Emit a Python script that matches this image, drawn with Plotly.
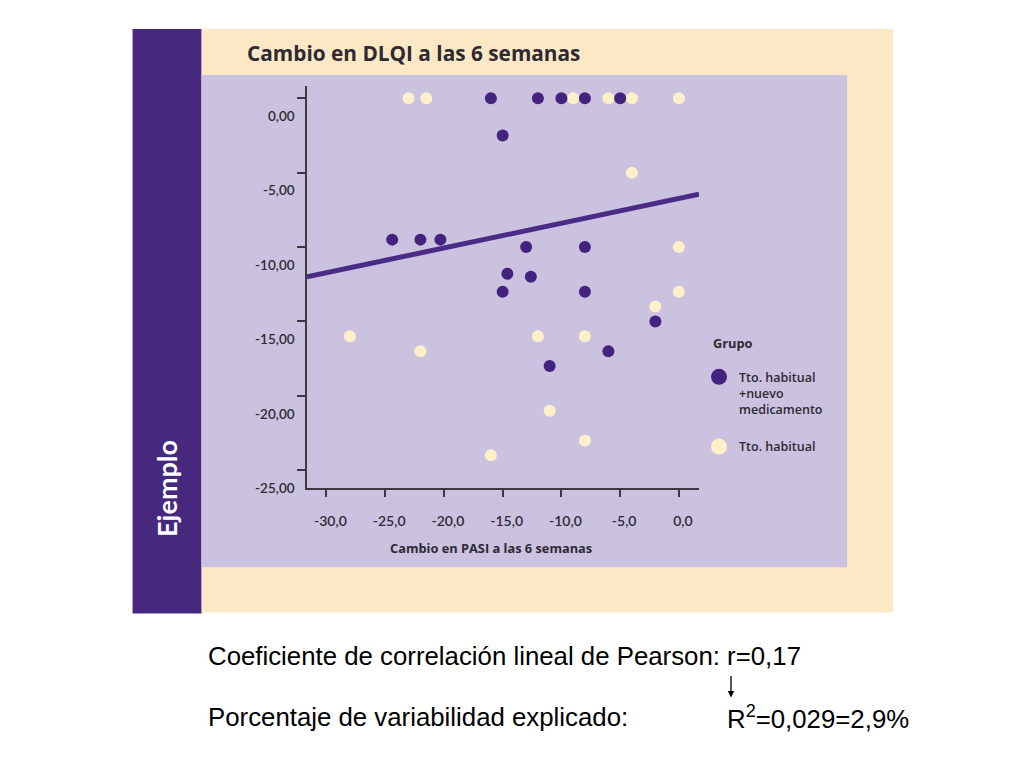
import plotly.graph_objects as go

# cambio en PASI (x) y DLQI (y) a las 6 semanas, por grupo
nuevo_x = [-16, -12, -10, -8, -5, -15, -24.4, -22, -20.3, -13, -8, -14.6, -12.6, -15, -8, -2, -6, -11]
nuevo_y = [0, 0, 0, 0, 0, -2.5, -9.5, -9.5, -9.5, -10, -10, -11.8, -12, -13, -13, -15, -17, -18]

habitual_x = [-23, -21.5, -9, -6, -4, 0, -4, 0, 0, -2, -28, -12, -8, -22, -11, -8, -16]
habitual_y = [0, 0, 0, 0, 0, 0, -5, -10, -13, -14, -16, -16, -16, -17, -21, -23, -24]

# recta de regresion
recta_x = [-31.65, 1.71]
recta_y = [-12.0, -6.45]

x_ticks = [-30, -25, -20, -15, -10, -5, 0]
x_labels = ["-30,0", "-25,0", "-20,0", "-15,0", "-10,0", "-5,0", "0,0"]
y_ticks = [0, -5, -10, -15, -20, -25]
y_labels = ["0,00", "-5,00", "-10,00", "-15,00", "-20,00", "-25,00"]

PURPLE = "#44237f"
CREAM = "#fff0c9"
LAVENDER = "#cac2df"
BEIGE = "#fde8c5"
DARK = "#2d2a33"

# page body margin of the html page
OFF = 8
# plot area in page pixels
L, R, T, B = 307.3, 699.0, 86.0, 487.7


def px(x):
    return (x - L) / (R - L)


def py(y):
    return (B - y) / (B - T)


def note(text, x, y, size, color=DARK, family="Open Sans", xanchor="left", **kw):
    return dict(text=text, x=px(x), y=py(y), xref="paper", yref="paper",
                xanchor=xanchor, yanchor="middle", showarrow=False,
                font=dict(family=family, size=size, color=color), **kw)


fig = go.Figure()

fig.add_trace(go.Scatter(x=habitual_x, y=habitual_y, mode="markers",
                         marker=dict(size=12, color=CREAM, line=dict(width=0)),
                         showlegend=False))
fig.add_trace(go.Scatter(x=recta_x, y=recta_y, mode="lines",
                         line=dict(color="#4b2a88", width=5), showlegend=False))
fig.add_trace(go.Scatter(x=nuevo_x, y=nuevo_y, mode="markers",
                         marker=dict(size=12, color=PURPLE, line=dict(width=0)),
                         showlegend=False))

# legend entries
fig.add_trace(go.Scatter(x=[None], y=[None], mode="markers", legendgroup="a",
                         marker=dict(size=18, color=PURPLE),
                         name="Tto. habitual<br>+nuevo<br>medicamento"))
fig.add_trace(go.Scatter(x=[None], y=[None], mode="markers", legendgroup="b",
                         marker=dict(size=18, color=CREAM),
                         name="Tto. habitual"))

shapes = [
    dict(type="rect", xref="paper", yref="paper", layer="below", line_width=0,
         x0=px(133), x1=px(202), y0=py(613), y1=py(29), fillcolor="#47287f"),
    dict(type="rect", xref="paper", yref="paper", layer="below", line_width=0,
         x0=px(202), x1=px(893), y0=py(612), y1=py(29), fillcolor=BEIGE),
    dict(type="rect", xref="paper", yref="paper", layer="below", line_width=0,
         x0=px(202), x1=px(847), y0=py(567), y1=py(75), fillcolor=LAVENDER),
]

annotations = [
    note("<b>Cambio en DLQI a las 6 semanas</b>", 245, 53, 20.8),
    note("<b>Ejemplo</b>", 167, 488, 27, color="white", family="Lato",
         xanchor="center", textangle=-90),
    note("<b>Cambio en PASI a las 6 semanas</b>", 491, 548, 12.8, xanchor="center"),
    note("<b>Grupo</b>", 711, 343, 12.8),
    note("Coeficiente de correlación lineal de Pearson: r=0,17", 206, 656, 25.8,
         color="black", family="Liberation Sans"),
    note("Porcentaje de variabilidad explicado:", 206, 717, 25.8,
         color="black", family="Liberation Sans"),
    note("R<sup>2</sup>=0,029=2,9%", 725, 717, 25.8,
         color="black", family="Liberation Sans"),
    dict(text="", x=px(731), y=py(697), xref="paper", yref="paper",
         ax=0, ay=-23, axref="pixel", ayref="pixel",
         showarrow=True, arrowhead=2, arrowsize=1, arrowwidth=1.3, arrowcolor="black"),
]

fig.update_layout(
    width=1024 - OFF, height=768 - OFF,
    margin=dict(l=L - OFF, r=1024 - R, t=T - OFF, b=768 - B, pad=0),
    paper_bgcolor="white",
    plot_bgcolor="rgba(0,0,0,0)",
    shapes=shapes,
    annotations=annotations,
    legend=dict(
        x=px(699), y=py(362), xanchor="left", yanchor="top",
        bgcolor="rgba(0,0,0,0)", valign="top",
        font=dict(family="Open Sans", size=12.5, color=DARK, weight=600),
        tracegroupgap=18, itemsizing="trace",
    ),
    xaxis=dict(
        range=[-31.65, 1.71], tickvals=x_ticks, ticktext=x_labels,
        showgrid=False, zeroline=False, showline=True, linecolor="#3c3942",
        linewidth=1.5, ticks="outside", ticklen=7, tickcolor="#3c3942",
        tickwidth=1.5, ticklabelstandoff=12, ticklabelshift=4,
        tickfont=dict(family="Lato", size=14, color=DARK, weight=600),
    ),
    yaxis=dict(
        range=[-26.2, 0.83], tickvals=y_ticks, ticktext=y_labels,
        showgrid=False, zeroline=False, showline=True, linecolor="#3c3942",
        linewidth=1.5, ticks="outside", ticklen=8, tickcolor="#3c3942",
        tickwidth=1.5, ticklabelshift=18, ticklabelstandoff=0,
        tickfont=dict(family="Lato", size=13.5, color=DARK, weight=600),
    ),
)

fig.write_html("out.html")
